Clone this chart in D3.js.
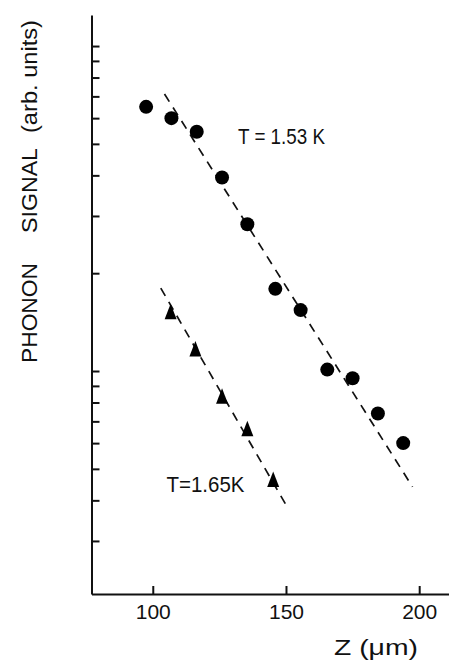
<!DOCTYPE html>
<html>
<head>
<meta charset="utf-8">
<script src="https://cdn.jsdelivr.net/npm/d3@7"></script>
<style>
  html, body { margin: 0; padding: 0; background: #fff; }
  svg { display: block; }
  text { font-family: "Liberation Sans", Arial, sans-serif; fill: #111; }
</style>
</head>
<body>
<svg id="chart" width="451" height="660"></svg>
<script>
// Phonon signal vs. distance Z, two temperatures (log signal axis)
const zCircles = [97.5, 107, 116.5, 126, 135.5, 146, 155.5, 165.5, 175, 184.5, 194];
const sCircles = [6.5, 6.0, 5.45, 3.94, 2.83, 1.79, 1.54, 1.01, 0.95, 0.74, 0.60];
const zTriangles = [106.7, 116, 126, 135.5, 145.2];
const sTriangles = [1.51, 1.16, 0.83, 0.66, 0.46];

// dashed guide lines (end points)
const zFitCircles = [104.4, 197.5];
const sFitCircles = [7.12, 0.44];
const zFitTriangles = [103, 150.5];
const sFitTriangles = [1.80, 0.381];

const xTicks = [100, 150, 200];
const yTicks = [0.3, 0.4, 0.5, 0.6, 0.7, 0.8, 0.9, 1, 2, 3, 4, 5, 6, 7, 8, 9, 10];

const labelCircles = "T = 1.53 K";
const labelTriangles = "T=1.65K";

const svg = d3.select("#chart");
const x = d3.scaleLinear().domain([77, 211]).range([91.5, 448.5]);
const y = d3.scaleLog().domain([0.206, 12.46]).range([594, 15]);

// y axis: ticks pointing into the plot, no labels
const yAxis = svg.append("g")
  .attr("transform", `translate(${x(77)},0)`)
  .call(d3.axisRight(y).tickValues(yTicks).tickSize(8).tickSizeOuter(0).tickFormat(""));
yAxis.select(".domain").attr("stroke", "#111").attr("stroke-width", 2);
yAxis.selectAll(".tick line").attr("stroke", "#111").attr("stroke-width", 2);

// x axis: ticks pointing up, labels below
const xAxis = svg.append("g")
  .attr("transform", `translate(0,${y(0.206)})`)
  .call(d3.axisBottom(x).tickValues(xTicks).tickSize(-8).tickSizeOuter(0).tickPadding(10));
xAxis.select(".domain").attr("stroke", "#111").attr("stroke-width", 2);
xAxis.selectAll(".tick line").attr("stroke", "#111").attr("stroke-width", 2);
xAxis.selectAll(".tick text")
  .attr("font-size", 21)
  .attr("font-family", "Liberation Sans, Arial, sans-serif")
  .attr("fill", "#111");

// axis titles
svg.append("text")
  .attr("x", 334).attr("y", 655)
  .attr("font-size", 22)
  .attr("textLength", 84)
  .attr("lengthAdjust", "spacingAndGlyphs")
  .text("Z (μm)");

const yTitle = svg.append("g").attr("transform", "translate(36.5,0) rotate(-90)");
[["PHONON", 363, 100], ["SIGNAL", 233, 85], ["(arb. units)", 133, 113]].forEach(([t, start, len]) => {
  yTitle.append("text")
    .attr("x", -start).attr("y", 0)
    .attr("font-size", 22)
    .attr("textLength", len)
    .attr("lengthAdjust", "spacingAndGlyphs")
    .text(t);
});

// dashed guide lines
const line = d3.line().x(d => x(d[0])).y(d => y(d[1]));
[[zFitCircles, sFitCircles], [zFitTriangles, sFitTriangles]].forEach(([zs, ss]) => {
  svg.append("path")
    .datum(zs.map((z, i) => [z, ss[i]]))
    .attr("d", line)
    .attr("fill", "none")
    .attr("stroke", "#111")
    .attr("stroke-width", 1.7)
    .attr("stroke-dasharray", "9,7");
});

// circles
svg.append("g").selectAll("circle")
  .data(zCircles.map((z, i) => [z, sCircles[i]]))
  .join("circle")
  .attr("cx", d => x(d[0]))
  .attr("cy", d => y(d[1]))
  .attr("r", 7)
  .attr("fill", "#000");

// triangles
svg.append("g").selectAll("path")
  .data(zTriangles.map((z, i) => [z, sTriangles[i]]))
  .join("path")
  .attr("transform", d => `translate(${x(d[0])},${y(d[1])})`)
  .attr("d", "M0,-9 L6,6.5 L-6,6.5 Z")
  .attr("fill", "#000");

// series labels
svg.append("text").attr("x", 238).attr("y", 144)
  .attr("font-size", 22).attr("textLength", 87).attr("lengthAdjust", "spacingAndGlyphs")
  .text(labelCircles);
svg.append("text").attr("x", 166.5).attr("y", 491.5)
  .attr("font-size", 22).attr("textLength", 78).attr("lengthAdjust", "spacingAndGlyphs")
  .text(labelTriangles);
</script>
</body>
</html>
